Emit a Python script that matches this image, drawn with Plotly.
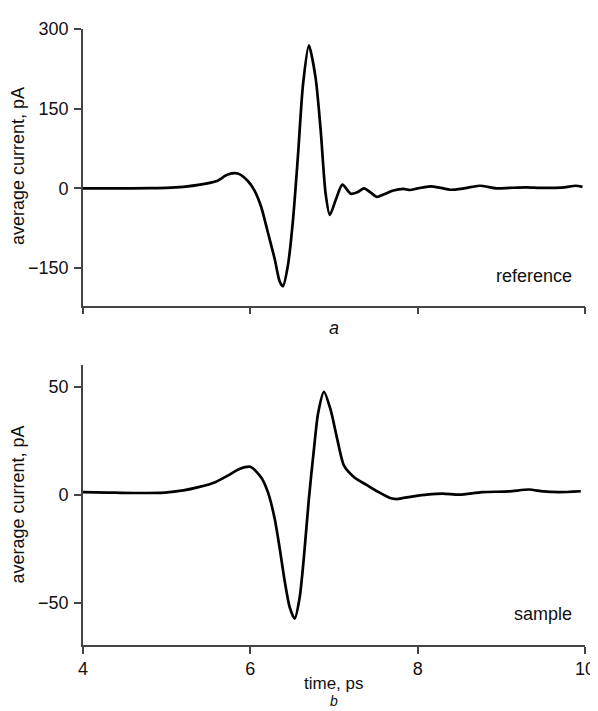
import plotly.graph_objects as go

# Reference pulse (panel a)
ref_t = [4.0, 4.4, 4.8, 5.0, 5.2, 5.4, 5.6, 5.73, 5.85, 5.97, 6.05, 6.13, 6.21, 6.29, 6.35,
         6.39, 6.45, 6.51, 6.57, 6.63, 6.70, 6.78, 6.84, 6.90, 6.95, 7.02, 7.10, 7.20,
         7.28, 7.36, 7.44, 7.51, 7.60, 7.71, 7.83, 7.91, 8.0, 8.15, 8.28, 8.39, 8.55,
         8.74, 8.94, 9.1, 9.30, 9.45, 9.57, 9.75, 9.89, 9.97]
ref_i = [0, 0, 0.5, 1, 3, 7, 14, 26, 28, 14, -4, -35, -83, -132, -175,
         -184, -144, -59, 63, 196, 269, 208, 111, -10, -50, -22, 7, -10,
         -7, 0, -8, -16, -11, -4, -1, -3, 0, 4, 1, -2.5, 0,
         5, 0, 1, 2, 1, 1, 2, 5, 3]

# Sample pulse (panel b)
smp_t = [4.0, 4.3, 4.6, 4.98, 5.2, 5.38, 5.58, 5.73, 5.87, 6.0, 6.13, 6.21, 6.29, 6.35,
         6.41, 6.47, 6.53, 6.59, 6.64, 6.70, 6.76, 6.81, 6.88, 6.96, 7.04, 7.12, 7.24,
         7.40, 7.52, 7.67, 7.75, 7.83, 7.95, 8.11, 8.30, 8.50, 8.77, 9.09, 9.33, 9.5,
         9.69, 9.95]
smp_i = [1.2, 1.0, 0.8, 1.0, 2.0, 3.5, 5.8, 8.8, 11.9, 12.9, 8.0, 1.2, -10.9, -24.6,
         -39.8, -52.0, -57.3, -47.4, -29.0, -1.8, 21.0, 37.7, 47.6, 39.2, 25.5, 13.4, 8.1,
         4.3, 1.5, -1.5, -2.0, -1.5, -0.8, 0.0, 0.5, 0.0, 1.2, 1.5, 2.4, 1.5,
         1.2, 1.6]

x_ticks = [4, 6, 8, 10]
ref_yticks = [-150, 0, 150, 300]
smp_yticks = [-50, 0, 50]

FONT = "Liberation Sans, Arial, sans-serif"
AX = "#444444"

fig = go.Figure()
fig.add_trace(go.Scatter(x=ref_t, y=ref_i, mode="lines", xaxis="x", yaxis="y",
                         line=dict(color="black", width=2.7, shape="spline", smoothing=0.7),
                         showlegend=False, hoverinfo="skip"))
fig.add_trace(go.Scatter(x=smp_t, y=smp_i, mode="lines", xaxis="x2", yaxis="y2",
                         line=dict(color="black", width=2.7, shape="spline", smoothing=0.7),
                         showlegend=False, hoverinfo="skip"))

axis_common = dict(showline=True, linecolor=AX, linewidth=1.6, ticks="outside",
                   tickcolor=AX, tickwidth=1.6, ticklen=7, showgrid=False, zeroline=False,
                   tickfont=dict(family=FONT, size=18, color="#111"))

fig.update_layout(
    width=598, height=711,
    margin=dict(l=75, r=17, t=11, b=74),
    paper_bgcolor="white", plot_bgcolor="white",
    xaxis=dict(domain=[0, 1], range=[4, 10], tickvals=x_ticks, showticklabels=False,
               anchor="y", **axis_common),
    yaxis=dict(domain=[0.5511, 1], range=[-220.4, 300], tickvals=ref_yticks,
               anchor="x", ticklabelstandoff=2, **axis_common),
    xaxis2=dict(domain=[0, 1], range=[4, 10], tickvals=x_ticks, anchor="y2",
                ticklabelstandoff=0, **axis_common),
    yaxis2=dict(domain=[0, 0.4553], range=[-69.5, 60.2], tickvals=smp_yticks,
                anchor="x2", ticklabelstandoff=2, **axis_common),
)

ann_font = dict(family=FONT, size=18, color="#111")
annotations = [
    dict(text="average current, pA", x=-0.129, y=0.778, textangle=-90),
    dict(text="average current, pA", x=-0.129, y=0.2284, textangle=-90),
    dict(text="<i>a</i>", x=0.5, y=0.5144),
    dict(text="time, ps", x=0.5, y=-0.0623, font=dict(family=FONT, size=17, color="#111")),
    dict(text="<i>b</i>", x=0.5, y=-0.1054, yanchor="bottom", borderpad=0,
         font=dict(family=FONT, size=14, color="#111")),
    dict(text="reference", x=0.978, y=0.599, xanchor="right"),
    dict(text="sample", x=0.978, y=0.0511, xanchor="right"),
]
for a in annotations:
    base = dict(xref="paper", yref="paper", showarrow=False, font=ann_font,
                xanchor="center", yanchor="middle")
    base.update(a)
    fig.add_annotation(**base)

fig.write_html("out.html", config={"displayModeBar": False})
